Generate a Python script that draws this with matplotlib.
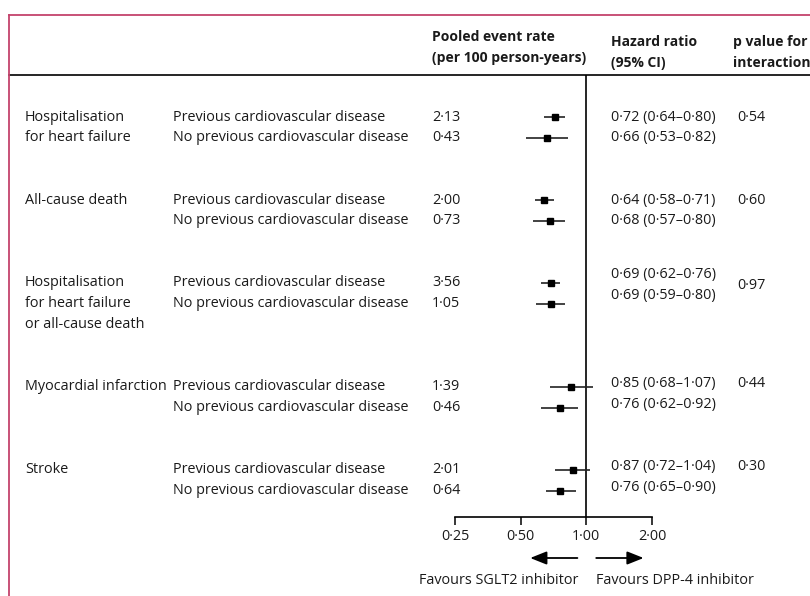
import matplotlib
matplotlib.use("Agg")
import matplotlib.pyplot as plt
import matplotlib.transforms as mtransforms
from matplotlib.lines import Line2D

plt.rcParams["font.family"] = ["Open Sans", "DejaVu Sans"]

# ---- data -------------------------------------------------------------
outcomes = [
    "Hospitalisation\nfor heart failure",
    "All-cause death",
    "Hospitalisation\nfor heart failure\nor all-cause death",
    "Myocardial infarction",
    "Stroke",
]
subgroups = ["Previous cardiovascular disease", "No previous cardiovascular disease"]

event_rates = [[2.13, 0.43], [2.00, 0.73], [3.56, 1.05], [1.39, 0.46], [2.01, 0.64]]
hr = [[0.72, 0.66], [0.64, 0.68], [0.69, 0.69], [0.85, 0.76], [0.87, 0.76]]
hr_lo = [[0.64, 0.53], [0.58, 0.57], [0.62, 0.59], [0.68, 0.62], [0.72, 0.65]]
hr_hi = [[0.80, 0.82], [0.71, 0.80], [0.76, 0.80], [1.07, 0.92], [1.04, 0.90]]
p_interaction = [0.54, 0.60, 0.97, 0.44, 0.30]

tick_values = [0.25, 0.5, 1.0, 2.0]


def fmt(v):
    return f"{v:.2f}".replace(".", "\u00b7")


# ---- layout -----------------------------------------------------------
W, H = 810, 596
fig = plt.figure(figsize=(W / 100, H / 100), dpi=100)

def fx(px):
    return px / W

def fy(py):
    return 1 - py / H

LINE = 20.75          # row pitch in pixels
first_row_px = 117
axis_px, header_px = 517, 75
left_px, right_px = 455, 652

ax = fig.add_axes([fx(left_px), fy(axis_px), fx(right_px) - fx(left_px),
                   fy(header_px) - fy(axis_px)])
ax.set_xscale("log", base=2)
ax.set_xlim(tick_values[0], tick_values[-1])
ax.set_ylim((axis_px - first_row_px) / LINE, (header_px - first_row_px) / LINE)
for s in ("left", "right", "top"):
    ax.spines[s].set_visible(False)
ax.spines["bottom"].set_linewidth(1.2)
ax.set_yticks([])
ax.set_xticks(tick_values)
ax.set_xticklabels([fmt(v) for v in tick_values], fontsize=10.4, color="#1a1a1a")
ax.xaxis.set_minor_locator(matplotlib.ticker.NullLocator())
ax.tick_params(axis="x", direction="out", length=6, width=1.1, pad=3)
ax.patch.set_visible(False)

ax.axvline(1.0, color="black", lw=1.2, zorder=1)

tr = mtransforms.blended_transform_factory(fig.transFigure, ax.transData)
FS = 10.4
TXT = "#1a1a1a"

# row positions: each block takes its label height plus two blank lines
row = 0.0
for g, name in enumerate(outcomes):
    label_lines = name.split("\n")
    nlines = max(len(label_lines), 2)
    shift = -0.4 if nlines > 2 else (-0.15 if g >= 3 else 0.0)
    for i, part in enumerate(label_lines):
        ax.text(fx(25), row + i, part, transform=tr, fontsize=FS, color=TXT,
                va="center", ha="left")
    for k in range(2):
        y = row + k
        ax.text(fx(173), y, subgroups[k], transform=tr, fontsize=FS,
                color=TXT, va="center", ha="left")
        ax.text(fx(432), y, fmt(event_rates[g][k]), transform=tr,
                fontsize=FS, color=TXT, va="center", ha="left")
        ax.text(fx(611), y + shift,
                f"{fmt(hr[g][k])} ({fmt(hr_lo[g][k])}\u2013{fmt(hr_hi[g][k])})",
                transform=tr, fontsize=FS, color=TXT, va="center", ha="left")
        ax.plot([hr_lo[g][k], hr_hi[g][k]], [y, y], color="#222222",
                lw=1.2, solid_capstyle="butt", zorder=2)
        ax.plot([hr[g][k]], [y], marker="s", ms=5, color="black",
                mec="black", zorder=3)
    p_y = row + 0.1 if nlines > 2 else row + shift
    ax.text(fx(737), p_y, fmt(p_interaction[g]), transform=tr, fontsize=FS,
            color=TXT, va="center", ha="left")
    row += nlines + 2

# ---- header -----------------------------------------------------------
hdr = dict(fontsize=10, fontweight="bold", color=TXT, ha="left", va="center")
fig.text(fx(432), fy(37), "Pooled event rate", **hdr)
fig.text(fx(432), fy(58), "(per 100 person-years)", **hdr)
fig.text(fx(611), fy(42), "Hazard ratio", **hdr)
fig.text(fx(611), fy(63), "(95% CI)", **hdr)
fig.text(fx(733), fy(42), "p value for", **hdr)
fig.text(fx(733), fy(63), "interaction", **hdr)

fig.add_artist(Line2D([fx(9), 1.0], [fy(header_px), fy(header_px)],
                      transform=fig.transFigure, color="black", lw=1.2))

# frame
frame_c = "#c4436c"
fig.add_artist(Line2D([fx(9), 1.0], [fy(15), fy(15)],
                      transform=fig.transFigure, color=frame_c, lw=1.3))
fig.add_artist(Line2D([fx(9), fx(9)], [fy(15), 0.0],
                      transform=fig.transFigure, color=frame_c, lw=1.3))

# ---- direction arrows --------------------------------------------------
arr_tr = mtransforms.blended_transform_factory(ax.transData, fig.transFigure)
arrow_style = dict(arrowstyle="-|>,head_length=1.0,head_width=0.4",
                   color="black", lw=1.3, shrinkA=0, shrinkB=0)
ax.annotate("", xy=(0.553, fy(558)), xytext=(0.91, fy(558)),
            xycoords=arr_tr, textcoords=arr_tr, annotation_clip=False,
            arrowprops=arrow_style)
ax.annotate("", xy=(1.83, fy(558)), xytext=(1.11, fy(558)),
            xycoords=arr_tr, textcoords=arr_tr, annotation_clip=False,
            arrowprops=arrow_style)
fig.text(fx(578), fy(580), "Favours SGLT2 inhibitor", fontsize=FS, color=TXT,
         ha="right", va="center")
fig.text(fx(596), fy(580), "Favours DPP-4 inhibitor", fontsize=FS, color=TXT,
         ha="left", va="center")

fig.savefig("out.png", dpi=100, facecolor="white")
